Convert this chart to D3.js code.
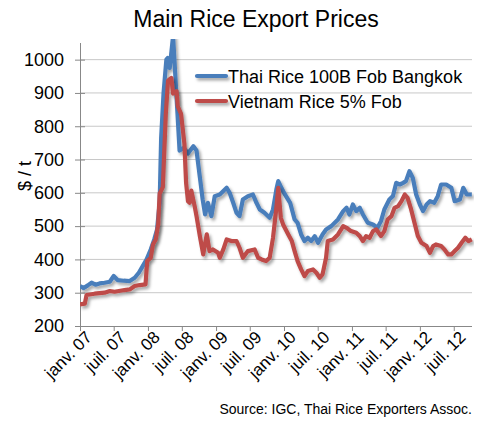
<!DOCTYPE html>
<html lang="fr">
<head>
<meta charset="utf-8">
<title>Main Rice Export Prices</title>
<script src="https://d3js.org/d3.v7.min.js"></script>
<style>
  body { margin: 0; background: #fff; }
  svg text { font-family: "Liberation Sans", Arial, sans-serif; fill: #000; }
</style>
</head>
<body>
<div id="chart"></div>
<script>
// series, [date, $/t]
var thaiRice = [
  ["2007-01-01", 320], ["2007-01-21", 314], ["2007-02-12", 322], ["2007-03-04", 330],
  ["2007-03-25", 324], ["2007-04-16", 328], ["2007-05-13", 330], ["2007-06-10", 333],
  ["2007-07-01", 350], ["2007-07-22", 338], ["2007-08-24", 336], ["2007-09-25", 335],
  ["2007-10-22", 345], ["2007-11-13", 360], ["2007-12-04", 380], ["2007-12-25", 400],
  ["2008-01-16", 430], ["2008-02-04", 460], ["2008-02-19", 490], ["2008-03-04", 570],
  ["2008-03-12", 765], ["2008-03-25", 900], ["2008-04-09", 1000], ["2008-04-16", 1005],
  ["2008-04-27", 975], ["2008-05-15", 1070], ["2008-06-03", 885], ["2008-06-19", 727],
  ["2008-07-12", 735], ["2008-08-03", 718], ["2008-09-01", 740], ["2008-09-18", 727],
  ["2008-10-06", 647], ["2008-10-21", 580], ["2008-11-03", 535], ["2008-11-18", 570],
  ["2008-12-07", 530], ["2008-12-25", 590], ["2009-01-21", 595], ["2009-02-27", 615],
  ["2009-03-15", 600], ["2009-04-03", 570], ["2009-04-21", 540], ["2009-05-07", 530],
  ["2009-05-25", 580], ["2009-06-21", 590], ["2009-07-18", 595], ["2009-08-06", 570],
  ["2009-08-24", 550], ["2009-09-18", 540], ["2009-10-16", 525], ["2009-11-03", 550],
  ["2009-11-21", 610], ["2009-12-01", 635], ["2009-12-18", 615], ["2010-01-06", 595],
  ["2010-02-03", 570], ["2010-02-27", 520], ["2010-03-15", 510], ["2010-04-03", 475],
  ["2010-04-21", 455], ["2010-05-09", 465], ["2010-05-27", 455], ["2010-06-15", 470],
  ["2010-07-03", 450], ["2010-07-27", 475], ["2010-08-15", 490], ["2010-09-12", 500],
  ["2010-10-18", 520], ["2010-11-15", 545], ["2010-12-03", 555], ["2010-12-18", 535],
  ["2011-01-06", 565], ["2011-01-24", 545], ["2011-02-12", 555], ["2011-03-01", 535],
  ["2011-03-27", 510], ["2011-04-24", 505], ["2011-05-18", 495], ["2011-06-06", 515],
  ["2011-06-24", 550], ["2011-07-21", 580], ["2011-08-09", 590], ["2011-08-27", 630],
  ["2011-09-15", 625], ["2011-10-03", 630], ["2011-10-18", 635], ["2011-11-06", 665],
  ["2011-11-24", 645], ["2011-12-12", 595], ["2012-01-01", 565], ["2012-01-18", 545],
  ["2012-02-06", 565], ["2012-02-24", 575], ["2012-03-18", 570], ["2012-04-06", 590],
  ["2012-04-24", 625], ["2012-05-21", 625], ["2012-06-18", 615], ["2012-07-06", 575],
  ["2012-08-03", 580], ["2012-08-21", 615], ["2012-09-09", 595], ["2012-10-06", 595]
];

var vietnamRice = [
  ["2007-01-01", 265], ["2007-01-27", 267], ["2007-02-05", 293], ["2007-03-20", 297],
  ["2007-05-13", 300], ["2007-06-10", 305], ["2007-07-06", 303], ["2007-08-28", 308],
  ["2007-09-25", 310], ["2007-10-22", 320], ["2007-11-18", 323], ["2007-12-19", 325],
  ["2007-12-28", 395], ["2008-01-16", 405], ["2008-01-28", 445], ["2008-02-12", 460],
  ["2008-02-25", 505], ["2008-03-04", 598], ["2008-03-21", 617], ["2008-04-06", 837],
  ["2008-04-18", 937], ["2008-05-06", 945], ["2008-05-15", 898], ["2008-06-03", 905],
  ["2008-06-09", 860], ["2008-06-27", 837], ["2008-07-15", 747], ["2008-07-24", 630],
  ["2008-08-03", 575], ["2008-08-12", 570], ["2008-08-21", 607], ["2008-09-09", 557],
  ["2008-09-18", 530], ["2008-10-06", 470], ["2008-10-24", 415], ["2008-11-12", 475],
  ["2008-11-27", 425], ["2008-12-15", 430], ["2009-01-12", 420], ["2009-01-21", 405],
  ["2009-02-09", 430], ["2009-02-27", 460], ["2009-03-24", 455], ["2009-04-21", 455],
  ["2009-05-07", 435], ["2009-05-25", 405], ["2009-06-21", 425], ["2009-07-27", 430],
  ["2009-08-15", 405], ["2009-09-03", 400], ["2009-09-27", 395], ["2009-10-16", 405],
  ["2009-11-03", 465], ["2009-11-21", 555], ["2009-12-01", 615], ["2009-12-15", 525],
  ["2009-12-27", 505], ["2010-01-24", 475], ["2010-02-12", 455], ["2010-02-27", 425],
  ["2010-03-15", 395], ["2010-04-03", 370], ["2010-04-21", 350], ["2010-05-09", 365],
  ["2010-06-06", 370], ["2010-06-24", 360], ["2010-07-12", 345], ["2010-07-27", 355],
  ["2010-08-15", 405], ["2010-08-24", 455], ["2010-09-21", 460], ["2010-10-18", 475],
  ["2010-11-15", 500], ["2010-12-03", 495], ["2010-12-27", 485], ["2011-01-24", 480],
  ["2011-02-12", 470], ["2011-03-01", 455], ["2011-03-18", 470], ["2011-04-06", 465],
  ["2011-04-24", 485], ["2011-05-12", 490], ["2011-06-06", 470], ["2011-06-24", 485],
  ["2011-07-12", 520], ["2011-08-01", 530], ["2011-08-18", 555], ["2011-09-06", 560],
  ["2011-09-24", 575], ["2011-10-12", 595], ["2011-10-27", 585], ["2011-11-15", 550],
  ["2011-12-03", 510], ["2011-12-21", 470], ["2012-01-09", 450], ["2012-02-06", 440],
  ["2012-02-24", 420], ["2012-03-12", 440], ["2012-03-27", 445], ["2012-04-24", 440],
  ["2012-05-12", 430], ["2012-06-01", 415], ["2012-06-18", 415], ["2012-07-06", 425],
  ["2012-07-24", 435], ["2012-08-12", 450], ["2012-09-01", 465], ["2012-09-18", 455],
  ["2012-10-06", 460]
];

var seriesNames = ["Thai Rice 100B Fob Bangkok", "Vietnam Rice 5% Fob"];
var seriesColors = ["#4a7ebb", "#be4b48"];
var yTicks = [200, 300, 400, 500, 600, 700, 800, 900, 1000];
var xTickDates = ["2007-01-01", "2007-07-01", "2008-01-01", "2008-07-01", "2009-01-01", "2009-07-01",
                  "2010-01-01", "2010-07-01", "2011-01-01", "2011-07-01", "2012-01-01", "2012-07-01"];
var monthNames = {0: "janv.", 6: "juil."};

var W = 478, H = 423;
var margin = {top: 43, right: 6, bottom: 97, left: 80};
var width = W - margin.left - margin.right,
    height = H - margin.top - margin.bottom;

var parse = d3.timeParse("%Y-%m-%d");

var svg = d3.select("#chart").append("svg")
    .attr("width", W)
    .attr("height", H);

// soft drop shadow like the spreadsheet lines
var defs = svg.append("defs");
var shadow = defs.append("filter").attr("id", "shadow")
    .attr("filterUnits", "userSpaceOnUse")
    .attr("x", -20).attr("y", -20).attr("width", W + 40).attr("height", H + 40);
shadow.append("feDropShadow")
    .attr("dx", 2).attr("dy", 2.5).attr("stdDeviation", 1.4)
    .attr("flood-color", "#000").attr("flood-opacity", 0.35);
defs.append("clipPath").attr("id", "plotclip")
  .append("rect").attr("x", 0).attr("y", -4).attr("width", width + 2).attr("height", height + 4);

var g = svg.append("g")
    .attr("transform", "translate(" + margin.left + "," + margin.top + ")");

var x = d3.scaleTime()
    .domain([parse("2007-01-01"), parse("2012-10-07")])
    .range([0, width]);
var y = d3.scaleLinear()
    .domain([200, 1050])
    .range([height, 0]);

// gridlines
g.append("g")
  .selectAll("line")
  .data(yTicks.filter(function(d) { return d > 200; }))
  .enter().append("line")
    .attr("x1", 0).attr("x2", width)
    .attr("y1", function(d) { return y(d); })
    .attr("y2", function(d) { return y(d); })
    .attr("stroke", "#c8c8c8")
    .attr("stroke-width", 1);

// y axis
var yAxis = g.append("g")
    .call(d3.axisLeft(y).tickValues(yTicks).tickSize(5).tickPadding(11).tickFormat(d3.format("d")));
yAxis.select(".domain").attr("stroke", "#888").attr("d", "M0.5," + height + "V0");
yAxis.selectAll(".tick line").attr("stroke", "#888").attr("x1", 5);
yAxis.selectAll(".tick text").style("font-size", "18px").attr("fill", "#000");

// x axis
var xAxis = g.append("g")
    .attr("transform", "translate(0," + height + ")")
    .call(d3.axisBottom(x)
      .tickValues(xTickDates.map(parse))
      .tickSize(5)
      .tickFormat(function(d) { return monthNames[d.getMonth()] + " " + d3.timeFormat("%y")(d); }));
xAxis.select(".domain").attr("stroke", "#888").attr("d", "M0," + 0.5 + "H" + width);
xAxis.selectAll(".tick line").attr("stroke", "#888");
xAxis.selectAll(".tick text")
    .style("font-size", "17px")
    .attr("fill", "#000")
    .attr("text-anchor", "end")
    .attr("transform", "translate(4,4) rotate(-45)")
    .attr("dy", "0.7em")
    .attr("y", 0)
    .attr("x", 0);

// lines
var line = d3.line()
    .x(function(d) { return x(parse(d[0])); })
    .y(function(d) { return y(d[1]); });

var lines = g.append("g").attr("clip-path", "url(#plotclip)");
[thaiRice, vietnamRice].forEach(function(data, i) {
  lines.append("path")
    .datum(data)
    .attr("d", line)
    .attr("fill", "none")
    .attr("stroke", seriesColors[i])
    .attr("stroke-width", 4.2)
    .attr("stroke-linejoin", "round")
    .attr("filter", "url(#shadow)");
});

// legend
var legend = svg.append("g").attr("transform", "translate(197,76)");
seriesNames.forEach(function(name, i) {
  var row = legend.append("g").attr("transform", "translate(0," + (i * 25) + ")");
  row.append("line")
    .attr("x1", 0).attr("x2", 29).attr("y1", 0).attr("y2", 0)
    .attr("stroke", seriesColors[i]).attr("stroke-width", 4.2)
    .attr("stroke-linecap", "round")
    .attr("filter", "url(#shadow)");
  row.append("text")
    .attr("x", 31).attr("y", 7)
    .style("font-size", "18px")
    .text(name);
});

// title
svg.append("text")
    .attr("x", 256).attr("y", 27)
    .attr("text-anchor", "middle")
    .style("font-size", "23px")
    .text("Main Rice Export Prices");

// y label
svg.append("text")
    .attr("transform", "translate(31,176) rotate(-90)")
    .attr("text-anchor", "middle")
    .style("font-size", "18px")
    .text("$ / t");

// source
svg.append("text")
    .attr("x", 472).attr("y", 414)
    .attr("text-anchor", "end")
    .style("font-size", "14px")
    .text("Source: IGC, Thai Rice Exporters Assoc.");
</script>
</body>
</html>
